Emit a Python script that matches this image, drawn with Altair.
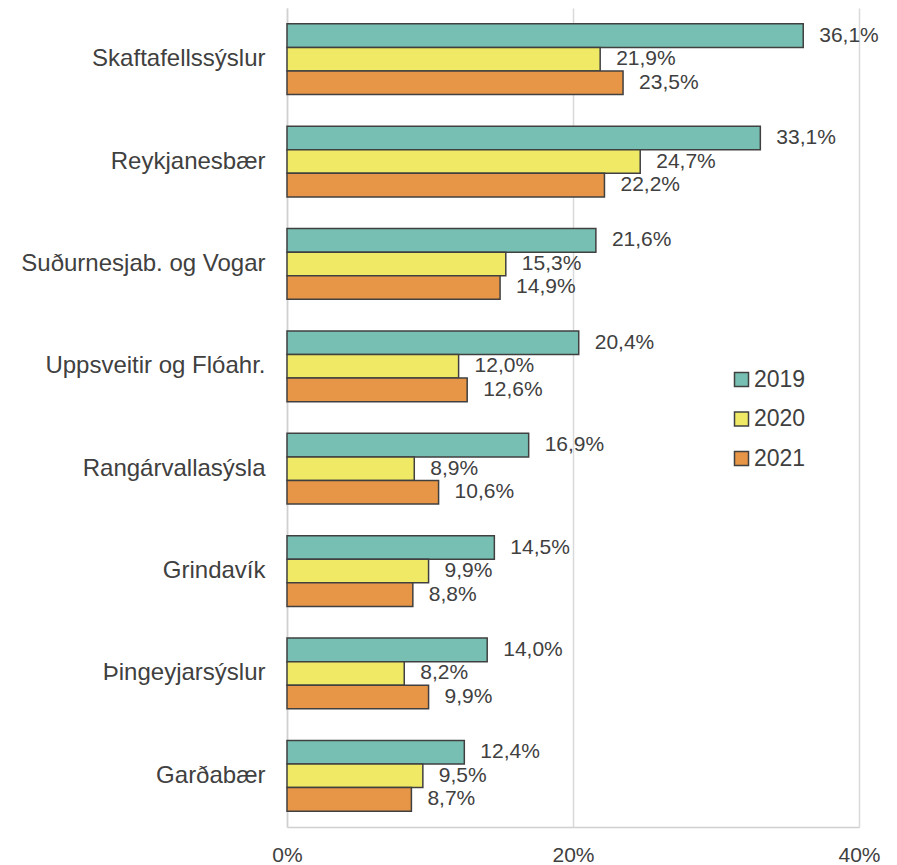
import altair as alt
import pandas as pd

regions = ["Skaftafellssýslur", "Reykjanesbær", "Suðurnesjab. og Vogar",
           "Uppsveitir og Flóahr.", "Rangárvallasýsla", "Grindavík",
           "Þingeyjarsýslur", "Garðabær"]
years = ["2019", "2020", "2021"]
v2019 = [36.1, 33.1, 21.6, 20.4, 16.9, 14.5, 14.0, 12.4]
v2020 = [21.9, 24.7, 15.3, 12.0, 8.9, 9.9, 8.2, 9.5]
v2021 = [23.5, 22.2, 14.9, 12.6, 10.6, 8.8, 9.9, 8.7]
colors = ["#77BFB2", "#EFE966", "#E69646"]

rows = []
for yr, vals in zip(years, [v2019, v2020, v2021]):
    for r, v in zip(regions, vals):
        rows.append({"region": r, "year": yr, "value": v})
df = pd.DataFrame(rows)

FONT = "Liberation Sans"

y_enc = alt.Y("region:N", sort=regions,
              scale=alt.Scale(paddingInner=0.31, paddingOuter=0.155),
              axis=alt.Axis(title=None, ticks=False, domain=True, domainColor="#d0d0d0",
                            domainWidth=1.5,
                            labelFontSize=24, labelColor="#404040", labelFont=FONT,
                            labelPadding=22, labelLimit=400))
x_enc = alt.X("value:Q", scale=alt.Scale(domain=[0, 40]),
              axis=alt.Axis(title=None, values=[0, 20, 40], format=".0f",
                            labelExpr="datum.value + '%'", labelFlush=False,
                            ticks=False, domainColor="#d0d0d0", domainWidth=1.5,
                            gridColor="#d9d9d9", gridWidth=1.5,
                            labelFontSize=21, labelColor="#404040", labelFont=FONT,
                            labelPadding=17))
yoff = alt.YOffset("year:N", sort=years, scale=alt.Scale(paddingInner=0, paddingOuter=0))

base = alt.Chart(df).encode(y=y_enc, yOffset=yoff)

bars = base.mark_bar(stroke="#404040", strokeWidth=1.5).encode(
    x=x_enc,
    color=alt.Color("year:N", sort=years,
                    scale=alt.Scale(domain=years, range=colors),
                    legend=alt.Legend(title=None, orient="none", legendX=443, legendY=360,
                                      symbolType="square", symbolSize=196,
                                      symbolStrokeColor="#404040", symbolStrokeWidth=1.5,
                                      labelFontSize=23, labelColor="#404040", labelFont=FONT,
                                      rowPadding=15.5, labelOffset=1))
)

text = base.transform_calculate(
    label="replace(format(datum.value, '.1f'), '.', ',') + '%'"
).mark_text(align="left", baseline="middle", dx=16, fontSize=21,
            color="#404040", font=FONT).encode(
    x="value:Q",
    text="label:N"
)

chart = (bars + text).properties(
    width=572, height=819,
    padding={"left": 12, "top": 0, "right": 5, "bottom": 0}
).configure_view(stroke=None)

chart.save("out.html", embed_options={"renderer": "svg", "actions": False})
